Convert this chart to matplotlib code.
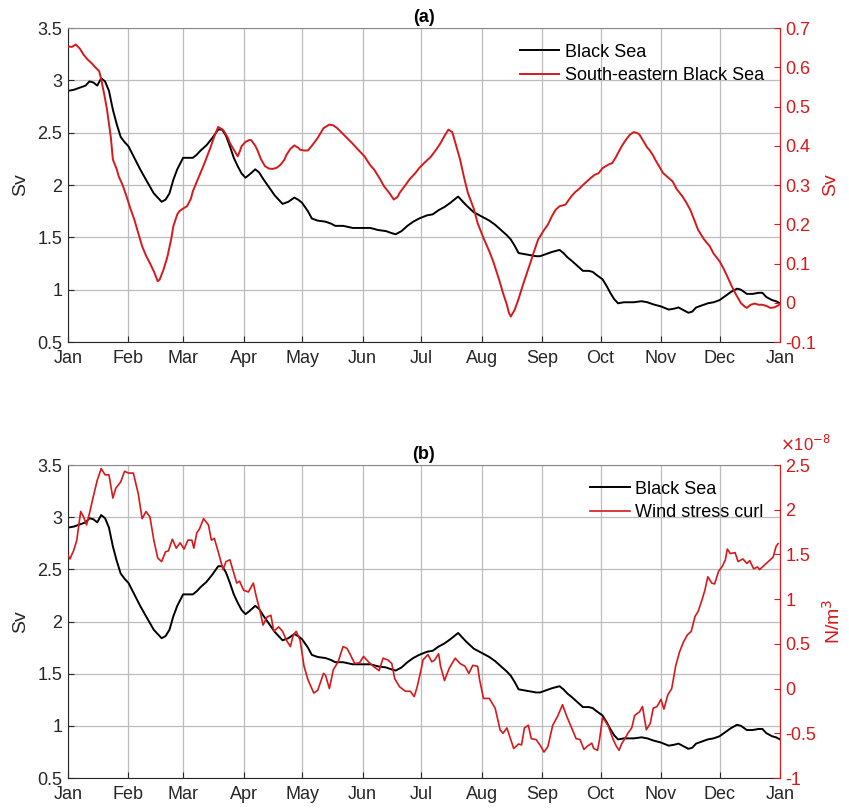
import matplotlib

matplotlib.use("Agg")

import matplotlib.pyplot as plt
import numpy as np
from matplotlib.ticker import FuncFormatter

# day of year
bs_day = [0, 3, 6, 9, 11, 13, 15, 17, 19, 21, 23, 25, 27, 29, 31, 34, 37, 40, 44, 46, 48, 50, 52, 54, 56,
          59, 62, 64, 66, 68, 71, 74, 77, 79, 81, 83, 85, 87, 89, 91, 93, 96, 98, 100, 103, 106, 110, 113,
          116, 118, 120, 123, 125, 128, 132, 135, 137, 141, 146, 150, 155, 159, 163, 166, 168, 171, 174,
          177, 180, 184, 187, 190, 193, 196, 198, 200, 202, 204, 208, 212, 216, 219, 222, 225, 227, 229,
          231, 234, 237, 240, 242, 245, 248, 250, 252, 254, 256, 258, 261, 264, 267, 269, 271, 274, 276,
          278, 280, 282, 285, 290, 294, 297, 300, 304, 308, 311, 313, 316, 318, 320, 322, 325, 328, 331,
          334, 337, 340, 343, 345, 348, 351, 354, 356, 358, 361, 363, 365]
bs_sv = [2.90, 2.91, 2.93, 2.95, 2.99, 2.98, 2.95, 3.02, 2.99, 2.90, 2.72, 2.58, 2.46, 2.41, 2.37, 2.26,
         2.15, 2.05, 1.92, 1.88, 1.84, 1.86, 1.92, 2.05, 2.15, 2.26, 2.26, 2.26, 2.29, 2.33, 2.38, 2.45,
         2.53, 2.53, 2.47, 2.37, 2.26, 2.18, 2.11, 2.07, 2.10, 2.15, 2.12, 2.06, 1.98, 1.90, 1.82, 1.84,
         1.88, 1.86, 1.83, 1.75, 1.68, 1.66, 1.65, 1.63, 1.61, 1.61, 1.59, 1.59, 1.59, 1.57, 1.56, 1.54,
         1.53, 1.56, 1.61, 1.65, 1.68, 1.71, 1.72, 1.76, 1.79, 1.83, 1.86, 1.89, 1.85, 1.81, 1.74, 1.70,
         1.66, 1.62, 1.57, 1.52, 1.48, 1.42, 1.35, 1.34, 1.33, 1.32, 1.32, 1.34, 1.36, 1.37, 1.38, 1.35,
         1.31, 1.28, 1.23, 1.18, 1.18, 1.17, 1.14, 1.10, 1.04, 0.97, 0.91, 0.87, 0.88, 0.88, 0.89, 0.88,
         0.86, 0.84, 0.81, 0.82, 0.83, 0.80, 0.78, 0.79, 0.83, 0.85, 0.87, 0.88, 0.90, 0.94, 0.98, 1.01,
         1.00, 0.96, 0.96, 0.97, 0.97, 0.93, 0.90, 0.89, 0.87]

se_day = [0, 2, 4, 6, 8, 10, 12, 14, 16, 17, 19, 20, 22, 23, 25, 26, 28, 30, 32, 34, 36, 38, 40, 42, 44,
          46, 47, 49, 51, 53, 54, 56, 57, 59, 61, 63, 64, 67, 70, 73, 75, 77, 79, 80, 82, 83, 85, 87, 88,
          89, 91, 93, 94, 96, 97, 99, 101, 103, 105, 107, 109, 111, 112, 114, 116, 118, 119, 121, 123,
          125, 128, 131, 134, 136, 138, 141, 143, 146, 148, 152, 155, 157, 160, 162, 165, 167, 169, 170,
          173, 175, 178, 180, 183, 186, 189, 191, 193, 195, 197, 199, 201, 203, 205, 208, 210, 213, 216,
          218, 221, 223, 225, 226, 227, 229, 231, 233, 235, 237, 239, 241, 244, 246, 248, 250, 252, 255,
          258, 260, 262, 264, 266, 268, 270, 272, 274, 277, 279, 281, 282, 284, 286, 288, 290, 292, 293,
          295, 297, 298, 300, 301, 303, 305, 307, 310, 312, 315, 317, 319, 321, 323, 326, 329, 331, 334,
          336, 338, 340, 342, 344, 345, 347, 348, 350, 352, 354, 356, 358, 360, 362, 364, 365]
se_sv = [0.653, 0.652, 0.658, 0.648, 0.632, 0.620, 0.611, 0.600, 0.590, 0.570, 0.520, 0.492, 0.420,
         0.365, 0.340, 0.322, 0.300, 0.271, 0.240, 0.212, 0.178, 0.144, 0.120, 0.101, 0.080, 0.055,
         0.059, 0.085, 0.118, 0.165, 0.195, 0.225, 0.233, 0.240, 0.246, 0.265, 0.284, 0.320, 0.356,
         0.395, 0.424, 0.448, 0.442, 0.437, 0.420, 0.407, 0.390, 0.373, 0.385, 0.399, 0.410, 0.415,
         0.414, 0.400, 0.390, 0.365, 0.348, 0.342, 0.341, 0.344, 0.352, 0.365, 0.377, 0.392, 0.401,
         0.395, 0.390, 0.388, 0.388, 0.400, 0.420, 0.445, 0.454, 0.452, 0.445, 0.430, 0.420, 0.405,
         0.394, 0.373, 0.350, 0.339, 0.315, 0.297, 0.278, 0.263, 0.270, 0.280, 0.300, 0.314, 0.330,
         0.343, 0.358, 0.372, 0.392, 0.407, 0.425, 0.441, 0.435, 0.400, 0.365, 0.320, 0.280, 0.240,
         0.203, 0.165, 0.131, 0.105, 0.059, 0.025, -0.005, -0.025, -0.035, -0.018, 0.010, 0.042, 0.072,
         0.101, 0.132, 0.161, 0.185, 0.199, 0.220, 0.237, 0.246, 0.250, 0.271, 0.282, 0.290, 0.300,
         0.309, 0.318, 0.326, 0.330, 0.343, 0.352, 0.356, 0.372, 0.382, 0.400, 0.415, 0.428, 0.435,
         0.432, 0.428, 0.412, 0.395, 0.390, 0.375, 0.365, 0.348, 0.331, 0.322, 0.309, 0.290, 0.271,
         0.255, 0.237, 0.212, 0.186, 0.162, 0.144, 0.125, 0.106, 0.088, 0.067, 0.045, 0.025, 0.008,
         -0.001, -0.010, -0.013, -0.005, -0.002, -0.005, -0.005, -0.008, -0.013, -0.012, -0.007, -0.003]

# wind stress curl in units of 1e-8 N/m^3
wsc_day = [0, 1, 3, 4.5, 6.5, 8, 9.5, 11, 13, 15, 17, 19, 21, 23, 24.5, 27, 29, 31, 33.5, 36, 38, 40,
           42, 44, 46, 48, 50, 51.5, 53.5, 55.5, 57.5, 59.5, 61.5, 63.5, 64.5, 66, 67.5, 69.5, 72, 73.5,
           75, 77, 79.5, 81, 83, 85, 86.5, 88, 90, 92.5, 95, 96.5, 98.5, 100, 102, 104, 105.5, 108, 110,
           112, 114, 115.5, 117, 119, 121, 123, 126, 128, 131, 132, 134, 136, 138.5, 141, 143, 144.5,
           147, 149.5, 151.5, 154, 156.5, 159.5, 161.5, 164, 166, 167.5, 170, 173, 175.5, 177.5, 179,
           181, 182, 184.5, 186.5, 188, 190, 191, 193, 195.5, 198.5, 201, 203.5, 205.5, 207.5, 210, 211,
           213, 216, 219, 221.5, 223, 225, 227, 228.5, 231, 232.5, 234, 236, 237.5, 240, 242.5, 244, 246,
           248.5, 251, 253.5, 255.5, 258, 260.5, 262.5, 264.5, 266.5, 268.5, 269.5, 271.5, 272.5, 274,
           275, 277, 279.5, 281, 282.5, 284, 285.5, 287, 289, 290.5, 293, 294.5, 296.5, 298.5, 300, 302,
           304, 305.5, 307.5, 309.5, 311.5, 313.5, 315.5, 317.5, 319.5, 321.5, 323, 325, 326.5, 328, 330,
           331.5, 333.5, 335.5, 337, 338, 339.5, 342, 343.5, 346, 348, 349.5, 351.5, 353.5, 354.5, 356.5,
           358, 360, 361.5, 363, 364]
wsc_e8 = [1.49, 1.45, 1.55, 1.66, 1.98, 1.92, 1.83, 1.96, 2.15, 2.33, 2.46, 2.39, 2.39, 2.13, 2.24, 2.31,
          2.43, 2.41, 2.41, 2.18, 1.90, 1.98, 1.92, 1.66, 1.46, 1.42, 1.53, 1.54, 1.67, 1.57, 1.63, 1.56,
          1.66, 1.66, 1.57, 1.74, 1.79, 1.90, 1.83, 1.66, 1.68, 1.53, 1.33, 1.42, 1.44, 1.29, 1.18, 1.20,
          1.10, 1.08, 1.18, 1.03, 0.86, 0.71, 0.80, 0.82, 0.64, 0.69, 0.64, 0.54, 0.47, 0.60, 0.64, 0.54,
          0.25, 0.10, -0.05, -0.02, 0.17, 0.15, 0.00, 0.21, 0.30, 0.47, 0.45, 0.39, 0.28, 0.29, 0.36,
          0.30, 0.25, 0.20, 0.34, 0.32, 0.28, 0.11, 0.02, -0.03, -0.03, -0.09, 0.02, 0.21, 0.32, 0.38,
          0.30, 0.32, 0.39, 0.25, 0.09, 0.23, 0.34, 0.28, 0.25, 0.17, 0.26, 0.25, 0.10, -0.11, -0.11,
          -0.22, -0.46, -0.50, -0.44, -0.57, -0.67, -0.62, -0.63, -0.44, -0.41, -0.56, -0.57, -0.65,
          -0.71, -0.65, -0.41, -0.31, -0.18, -0.30, -0.43, -0.56, -0.57, -0.68, -0.64, -0.61, -0.67,
          -0.69, -0.57, -0.33, -0.35, -0.42, -0.57, -0.64, -0.69, -0.61, -0.56, -0.50, -0.44, -0.30,
          -0.26, -0.20, -0.46, -0.39, -0.22, -0.20, -0.12, -0.23, -0.07, 0.00, 0.25, 0.41, 0.52, 0.60,
          0.64, 0.81, 0.86, 0.99, 1.10, 1.25, 1.18, 1.17, 1.31, 1.37, 1.44, 1.56, 1.51, 1.52, 1.42, 1.45,
          1.40, 1.43, 1.34, 1.36, 1.33, 1.37, 1.40, 1.44, 1.47, 1.59, 1.62]

month_days = [0, 31, 59, 90, 120, 151, 181, 212, 243, 273, 304, 334, 365]
month_labels = ["Jan", "Feb", "Mar", "Apr", "May", "Jun", "Jul", "Aug", "Sep", "Oct", "Nov", "Dec", "Jan"]

RED = "#d6191b"
AX_GREY = "#262626"

plt.rcParams["font.family"] = ["Liberation Sans", "DejaVu Sans"]
plt.rcParams["axes.unicode_minus"] = False

fmt = FuncFormatter(lambda v, _: f"{v:g}")


def setup_panel(ax, title, right_lim, right_step, right_label):
    ax.set_xlim(0, 365)
    ax.set_ylim(0.5, 3.5)
    ax.set_xticks(month_days)
    ax.set_xticklabels(month_labels)
    ax.set_yticks(np.arange(0.5, 3.51, 0.5))
    ax.yaxis.set_major_formatter(fmt)
    ax.grid(True, color="#bcbcbc", linewidth=0.9)
    ax.tick_params(direction="in", length=4, labelsize=13, colors=AX_GREY, pad=4)
    ax.tick_params(axis="x", pad=6)
    ax.set_ylabel("Sv", fontsize=14, color=AX_GREY, labelpad=6)
    ax.set_title(title, fontsize=13, fontweight="bold", pad=4)
    for s in ax.spines.values():
        s.set_color("#8a8a8a")
        s.set_linewidth(0.8)
    ax.spines["left"].set_color(AX_GREY)
    ax.spines["bottom"].set_color(AX_GREY)

    ar = ax.twinx()
    ar.set_ylim(*right_lim)
    ar.set_yticks(np.arange(right_lim[0], right_lim[1] + 1e-9, right_step))
    ar.yaxis.set_major_formatter(fmt)
    ar.tick_params(direction="in", length=4, labelsize=13, colors=RED, pad=4)
    ar.spines["right"].set_color(RED)
    ar.spines["right"].set_linewidth(0.8)
    for side in ("left", "top", "bottom"):
        ar.spines[side].set_visible(False)
    ar.set_ylabel(right_label, fontsize=14, color=RED, rotation=90, labelpad=4)
    return ar


def add_legend(ar, handles):
    ar.legend(handles=handles, loc="upper right", bbox_to_anchor=(0.995, 0.99), frameon=False,
              fontsize=13, handlelength=2.2, handletextpad=0.3, labelspacing=0.35, borderpad=0.2)


fig = plt.figure(figsize=(8.49, 8.08), dpi=100)

ax1 = fig.add_axes([0.0801, 0.5767, 0.8386, 0.3886])
ar1 = setup_panel(ax1, "(a)", (-0.1, 0.7), 0.1, "Sv")
l1, = ax1.plot(bs_day, bs_sv, color="black", lw=1.4, label="Black Sea")
l2, = ar1.plot(se_day, se_sv, color=RED, lw=1.4, label="South-eastern Black Sea")
add_legend(ar1, [l1, l2])

ax2 = fig.add_axes([0.0801, 0.0371, 0.8386, 0.3874])
ar2 = setup_panel(ax2, "(b)", (-1.0, 2.5), 0.5, "N/m$^3$")
l3, = ax2.plot(bs_day, bs_sv, color="black", lw=1.4, label="Black Sea")
l4, = ar2.plot(wsc_day, wsc_e8, color=RED, lw=1.2, label="Wind stress curl")
add_legend(ar2, [l3, l4])
ar2.text(1.0, 1.035, r"$\times$10$^{-8}$", transform=ar2.transAxes, color=RED, fontsize=12,
         ha="left", va="bottom")

fig.savefig("out.png", dpi=100)
plt.close(fig)
